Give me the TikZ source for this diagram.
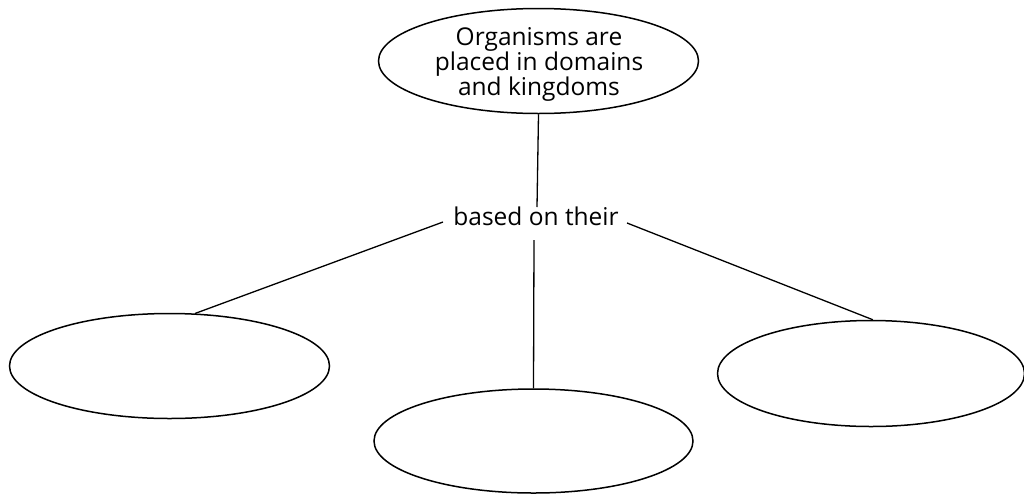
\documentclass[tikz,border=0pt]{standalone}
\usepackage{fontspec}
\setmainfont{Open Sans}
\usetikzlibrary{shapes.geometric}
\begin{document}
\begin{tikzpicture}[x=1pt,y=-1pt,
  bubble/.style={draw,line width=1.5pt,ellipse,inner sep=0pt},
  link/.style={draw,line width=1.3pt},
  txt/.style={font=\fontsize{24.5}{25}\selectfont,align=center,inner sep=0pt}]
\useasboundingbox (0,0) rectangle (1024,493);
% concept ellipses
\node[bubble,minimum width=320,minimum height=105] (top) at (538.5,61) {};
\node[txt] (toptext) at (539,64) {Organisms are\\placed in domains\\and kingdoms};
\node[txt,anchor=base] (based) at (536,225) {based on their};
\node[bubble,minimum width=320,minimum height=105] (left) at (169.5,366) {};
\node[bubble,minimum width=319,minimum height=104] (mid) at (533.5,441) {};
\node[bubble,minimum width=307,minimum height=106] (right) at (871,373.5) {};
% connector ends beside the label
\coordinate (ba) at (537,207);
\coordinate (bb) at (534,240);
\coordinate (bl) at (443,222);
\coordinate (br) at (627,223);
% connectors
\draw[link] (top.south) -- (ba);
\draw[link] (bb) -- (mid.north);
\draw[link] (bl) -- (left.64);
\draw[link] (br) -- (right.88);
\end{tikzpicture}
\end{document}
